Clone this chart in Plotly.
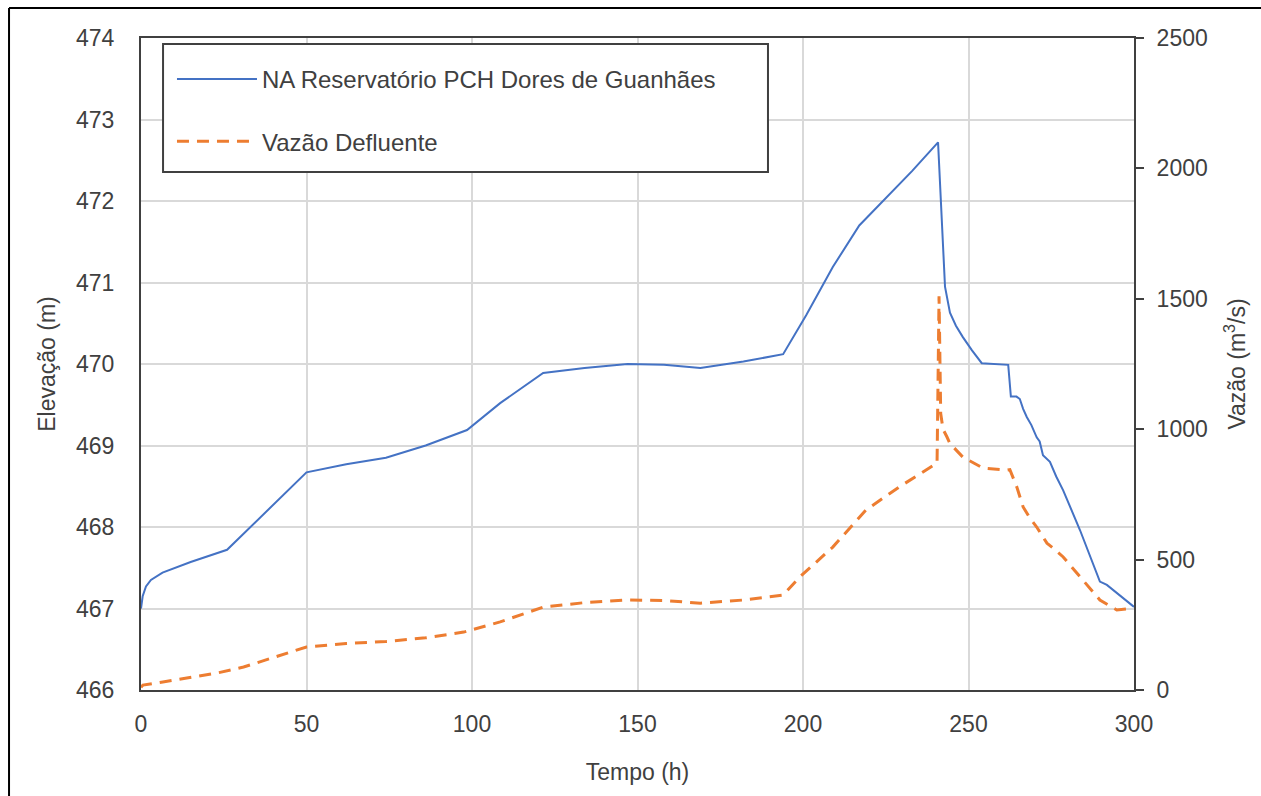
import plotly.graph_objects as go

# ---- data ----
t_elev = [0, 0.5, 1.5, 3, 6.5, 15, 26, 38, 50, 62, 74, 86, 98.5, 108.5, 121.5, 134, 147, 158,
          169, 182, 194, 201, 209, 217, 225, 233, 240.8, 241.7, 242.9, 244.4, 246.2, 248.3,
          251, 254, 258, 262, 262.8, 264.5, 265.5, 266.5, 267.6, 269, 270.6, 271.5, 272.5,
          274.6, 276.5, 278.6, 283.7, 289.7, 291.8, 295.5, 300]
elev = [467.0, 467.15, 467.27, 467.35, 467.44, 467.57, 467.72, 468.2, 468.67, 468.77, 468.85,
        469.0, 469.19, 469.52, 469.89, 469.95, 470.0, 469.99, 469.95, 470.03, 470.12, 470.6,
        471.19, 471.7, 472.04, 472.37, 472.72, 471.98, 470.95, 470.63, 470.47, 470.33, 470.17,
        470.01, 470.0, 469.99, 469.6, 469.6, 469.57, 469.45, 469.35, 469.25, 469.1, 469.05,
        468.88, 468.8, 468.62, 468.45, 467.96, 467.33, 467.29, 467.17, 467.02]

t_flow = [0, 0.6, 6.6, 15, 23, 31, 40, 50, 62, 74, 86, 97.5, 108.5, 121.5, 134, 146.8, 158,
          169, 182, 194, 199, 209, 219, 229, 240.5, 241.1, 241.6, 242.3, 243.5, 244.4, 248.3,
          254.4, 261.6, 262.5, 264.6, 266.5, 268.5, 270.6, 273.7, 276, 278.6, 283.7, 289.7,
          294.8, 299.7]
flow = [10, 19, 31, 48, 65, 88, 125, 165, 178, 186, 200, 222, 261, 318, 335, 345, 343, 333,
        345, 364, 433, 548, 690, 778, 870, 1510, 1060, 1000, 970, 945, 893, 851, 843, 845, 778,
        702, 660, 625, 563, 540, 510, 433, 345, 307, 314]

name_elev = "NA Reservatório PCH Dores de Guanhães"
name_flow = "Vazão Defluente"

FONT = "Liberation Sans, Arial, sans-serif"
TXT = "#404040"

fig = go.Figure()
fig.add_trace(go.Scatter(x=t_elev, y=elev, mode="lines", name=name_elev,
                         legendgroup="a",
                         line=dict(color="#4472C4", width=2)))
fig.add_trace(go.Scatter(x=t_flow, y=flow, mode="lines", name=name_flow, yaxis="y2",
                         legendgroup="b",
                         line=dict(color="#ED7D31", width=3, dash="12px,8px")))

fig.update_layout(
    width=1261, height=796,
    margin=dict(l=141, r=127, t=38, b=106),
    paper_bgcolor="white", plot_bgcolor="white",
    font=dict(family=FONT, size=23, color=TXT),
    xaxis=dict(range=[0, 300], dtick=50, showgrid=True, gridcolor="#d9d9d9", gridwidth=1.5,
               showline=True, linecolor="#404040", linewidth=2, mirror=True,
               ticks="", zeroline=False, ticklabelstandoff=12,
               title=dict(text="Tempo (h)", font=dict(size=23), standoff=28)),
    yaxis=dict(range=[466, 474], dtick=1, showgrid=True, gridcolor="#d9d9d9", gridwidth=1.5,
               showline=True, linecolor="#404040", linewidth=2, ticks="", zeroline=False,
               ticklabelstandoff=20,
               title=dict(text="Elevação (m)", font=dict(size=23), standoff=14)),
    yaxis2=dict(range=[0, 2500], dtick=500, overlaying="y", side="right", showgrid=False,
                showline=True, linecolor="#404040", linewidth=2, ticks="outside", ticklen=8,
                tickwidth=2, tickcolor="#404040", zeroline=False, ticklabelstandoff=8,
                title=dict(text="Vazão (m<sup>3</sup>/s)", font=dict(size=23), standoff=22)),
    legend=dict(x=0.0312, y=0.971, xanchor="left", yanchor="top",
                bgcolor="rgba(0,0,0,0)", borderwidth=0,
                font=dict(size=24, color=TXT), itemwidth=80, tracegroupgap=28,
                traceorder="grouped"),
    shapes=[
        dict(type="rect", xref="paper", yref="paper", x0=0.0222, x1=0.6314, y0=0.7945, y1=0.9908,
             fillcolor="white", line=dict(color="#404040", width=2), layer="above"),
        dict(type="line", xref="paper", yref="paper", x0=-0.1329, x1=-0.1329, y0=-0.17, y1=1.046,
             line=dict(color="black", width=2)),
        dict(type="line", xref="paper", yref="paper", x0=-0.1329, x1=1.135, y0=1.046, y1=1.046,
             line=dict(color="black", width=2)),
    ],
)

fig.write_html("out.html")
